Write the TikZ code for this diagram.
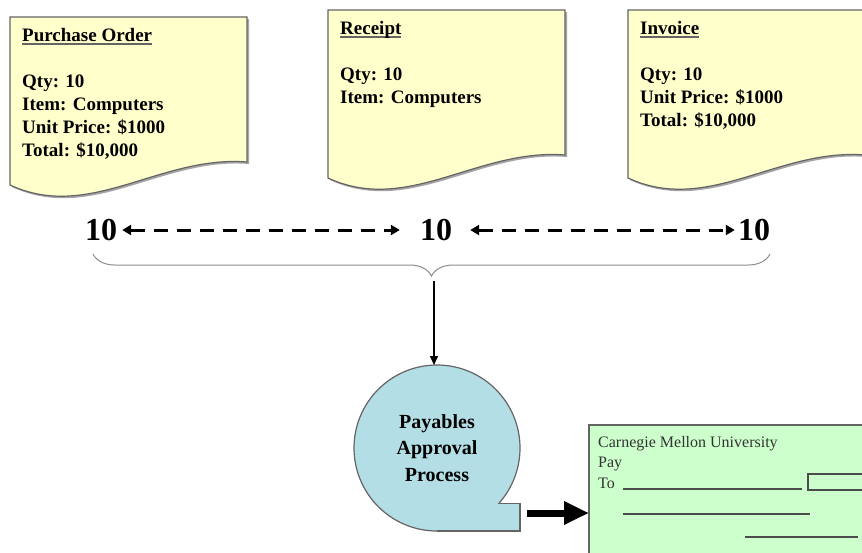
\documentclass[tikz,border=0pt]{standalone}
\usepackage{fontspec}
\setmainfont{Liberation Serif}
\usetikzlibrary{arrows.meta, decorations.pathreplacing, shadows}

\definecolor{paperyellow}{RGB}{255,255,204}
\definecolor{procblue}{RGB}{180,222,229}
\definecolor{chequegreen}{RGB}{204,255,204}
\definecolor{edgegray}{RGB}{100,100,100}

\newcommand{\papertitle}[1]{\leavevmode\setbox0\hbox{#1}\rlap{\color{edgegray}\rule[-3.5pt]{\wd0}{1.6pt}}\box0}

\begin{document}
\begin{tikzpicture}
    [
        x=1pt, y=-1pt,
        paper_line/.style={draw=edgegray, fill=paperyellow, line width=1.2pt, drop shadow={shadow xshift=2pt, shadow yshift=-2pt, opacity=0.35, fill=black}},
        paper/.pic={\path[paper_line] (0,0) -- (237,0) -- (237,145) .. controls (150,138) and (80,205) .. (0,168) -- cycle;},
        paper_text/.style={anchor=north west, inner sep=0pt, align=left, font=\fontsize{19}{23}\selectfont\bfseries},
        qty_node/.style={inner sep=3pt, font=\fontsize{32}{36}\selectfont\bfseries},
        dash_arrow/.style={{Triangle[length=9pt, width=10pt]}-{Triangle[length=9pt, width=10pt]}, line width=3pt, dash pattern=on 14pt off 9pt},
        brace_line/.style={draw=black!45, line width=1pt, decorate, decoration={brace, mirror, amplitude=22pt}},
        down_arrow/.style={-{Triangle[length=9pt, width=8pt]}, line width=1.5pt},
        proc_node/.style={circle, draw=edgegray, fill=procblue, line width=1.2pt, minimum size=166pt, inner sep=0pt, outer sep=0pt, align=center, font=\fontsize{20}{26.5}\selectfont\bfseries},
        proc_edge/.style={draw=edgegray, line width=1.2pt},
        fat_arrow/.style={-{Triangle[length=25pt, width=22pt]}, line width=7pt},
        cheque_node/.style={anchor=north west, draw=edgegray, fill=chequegreen, line width=1.2pt, minimum width=300pt, minimum height=160pt, inner sep=0pt, outer sep=0pt},
        cheque_text/.style={anchor=north west, inner sep=0pt, align=left, font=\fontsize{16}{20.5}\selectfont, text=black!80},
        cheque_line/.style={draw=black!70, line width=1.3pt},
    ]
        \useasboundingbox (0,0) rectangle (862,552);
        \pic at (10,17) {paper};
        \pic at (328,10) {paper};
        \pic at (628,10) {paper};
        \node[paper_text] (po) at (22,28) {\papertitle{Purchase Order}\\[23pt] Qty: 10\\ Item: Computers\\ Unit Price: \$1000\\ Total: \$10,000};
        \node[paper_text] (rc) at (340,21) {\papertitle{Receipt}\\[23pt] Qty: 10\\ Item: Computers};
        \node[paper_text] (inv) at (640,21) {\papertitle{Invoice}\\[23pt] Qty: 10\\ Unit Price: \$1000\\ Total: \$10,000};
        \node[qty_node] (po_qty) at (101,230) {10};
        \node[qty_node] (rc_qty) at (436,230) {10};
        \node[qty_node] (inv_qty) at (754,230) {10};
        \draw[dash_arrow, shorten <=2pt, shorten >=17pt] (po_qty) -- (rc_qty);
        \draw[dash_arrow, shorten <=15pt, shorten >=0pt] (rc_qty) -- (inv_qty);
        \coordinate (brace_left) at (93,254);
        \coordinate (brace_right) at (770,254);
        \draw[brace_line] (brace_left) -- (brace_right);
        \coordinate (brace_tip) at (434,281);
        \node[proc_node] (pap) at (437,448) {Payables\\Approval\\Process};
        \fill[procblue] (pap.south) -- ++(83,0) |- (pap.-42.6) -- cycle;
        \draw[proc_edge] (pap.south) -- ++(83,0) |- (pap.-42.6);
        \draw[down_arrow] (brace_tip) -- (brace_tip |- pap.north);
        \node[cheque_node] (chk) at (589,425) {};
        \node[cheque_text] (cmu) at (598,436) {Carnegie Mellon University\\ Pay\\ To};
        \coordinate (tail_end) at (527,513);
        \draw[fat_arrow] (tail_end) -- (tail_end -| chk.west);
        \draw[cheque_line] (623,489) -- (802,489);
        \draw[cheque_line] (808,474) rectangle (880,490);
        \draw[cheque_line] (623,514) -- (810,514);
        \draw[cheque_line] (745,537) -- (858,537);
    \end{tikzpicture}
\end{document}
